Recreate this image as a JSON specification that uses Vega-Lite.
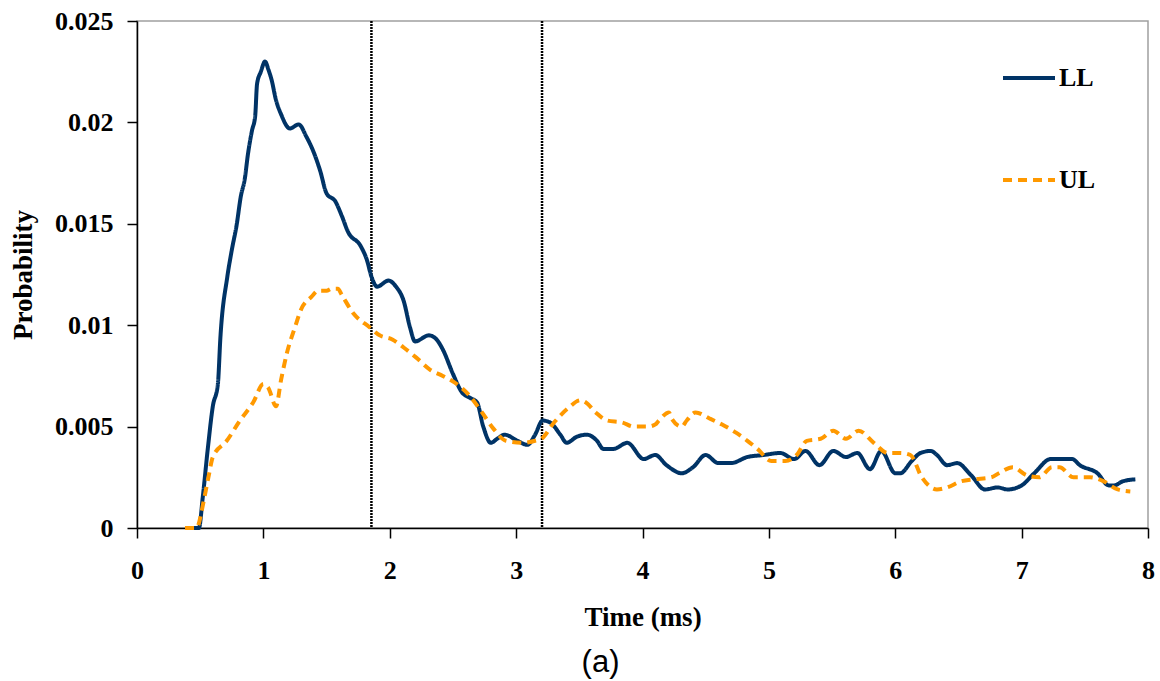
{
  "$schema": "https://vega.github.io/schema/vega-lite/v6.json",
  "autosize": {"type": "none"},
  "padding": {"left": 137, "top": 21, "right": 12, "bottom": 153},
  "width": 1011,
  "height": 507,
  "background": "white",
  "config": {
    "view": {"stroke": "#a0a0a0", "strokeWidth": 1.5},
    "axis": {
      "grid": false,
      "domainColor": "black",
      "domainWidth": 1.5,
      "tickColor": "black",
      "tickWidth": 1.5,
      "tickSize": 10,
      "labelFlush": false,
      "labelFont": "Liberation Serif",
      "labelFontWeight": "bold",
      "labelFontSize": 26,
      "labelColor": "black",
      "titleFont": "Liberation Serif",
      "titleFontWeight": "bold",
      "titleFontSize": 27,
      "titleColor": "black"
    },
    "title": {"font": "Liberation Sans", "fontSize": 31, "fontWeight": "normal", "color": "black"}
  },
  "title": {"text": "(a)", "orient": "bottom", "anchor": "middle", "dx": -42, "offset": 18},
  "datasets": {
    "curves": [
      {"t": 0.40, "p": 0, "s": "LL"},
      {"t": 0.49, "p": 0, "s": "LL"},
      {"t": 0.52, "p": 0.0015, "s": "LL"},
      {"t": 0.56, "p": 0.0039, "s": "LL"},
      {"t": 0.60, "p": 0.0060, "s": "LL"},
      {"t": 0.64, "p": 0.0071, "s": "LL"},
      {"t": 0.66, "p": 0.0094, "s": "LL"},
      {"t": 0.715, "p": 0.0124, "s": "LL"},
      {"t": 0.75, "p": 0.0137, "s": "LL"},
      {"t": 0.79, "p": 0.0150, "s": "LL"},
      {"t": 0.82, "p": 0.0163, "s": "LL"},
      {"t": 0.855, "p": 0.0173, "s": "LL"},
      {"t": 0.875, "p": 0.0183, "s": "LL"},
      {"t": 0.91, "p": 0.0196, "s": "LL"},
      {"t": 0.935, "p": 0.0203, "s": "LL"},
      {"t": 0.95, "p": 0.0219, "s": "LL"},
      {"t": 0.98, "p": 0.0225, "s": "LL"},
      {"t": 1.013, "p": 0.0230, "s": "LL"},
      {"t": 1.04, "p": 0.0226, "s": "LL"},
      {"t": 1.065, "p": 0.0221, "s": "LL"},
      {"t": 1.10, "p": 0.0211, "s": "LL"},
      {"t": 1.14, "p": 0.0204, "s": "LL"},
      {"t": 1.21, "p": 0.0197, "s": "LL"},
      {"t": 1.28, "p": 0.0199, "s": "LL"},
      {"t": 1.34, "p": 0.0193, "s": "LL"},
      {"t": 1.40, "p": 0.0185, "s": "LL"},
      {"t": 1.45, "p": 0.0176, "s": "LL"},
      {"t": 1.50, "p": 0.0165, "s": "LL"},
      {"t": 1.57, "p": 0.0161, "s": "LL"},
      {"t": 1.62, "p": 0.0154, "s": "LL"},
      {"t": 1.67, "p": 0.0146, "s": "LL"},
      {"t": 1.77, "p": 0.0139, "s": "LL"},
      {"t": 1.82, "p": 0.0132, "s": "LL"},
      {"t": 1.855, "p": 0.0124, "s": "LL"},
      {"t": 1.90, "p": 0.0119, "s": "LL"},
      {"t": 1.99, "p": 0.0122, "s": "LL"},
      {"t": 2.05, "p": 0.0119, "s": "LL"},
      {"t": 2.11, "p": 0.0112, "s": "LL"},
      {"t": 2.16, "p": 0.0099, "s": "LL"},
      {"t": 2.20, "p": 0.0092, "s": "LL"},
      {"t": 2.31, "p": 0.0095, "s": "LL"},
      {"t": 2.37, "p": 0.0093, "s": "LL"},
      {"t": 2.42, "p": 0.0088, "s": "LL"},
      {"t": 2.50, "p": 0.0076, "s": "LL"},
      {"t": 2.57, "p": 0.0067, "s": "LL"},
      {"t": 2.64, "p": 0.0064, "s": "LL"},
      {"t": 2.69, "p": 0.0062, "s": "LL"},
      {"t": 2.74, "p": 0.0050, "s": "LL"},
      {"t": 2.80, "p": 0.0042, "s": "LL"},
      {"t": 2.85, "p": 0.0044, "s": "LL"},
      {"t": 2.91, "p": 0.0046, "s": "LL"},
      {"t": 3.01, "p": 0.0043, "s": "LL"},
      {"t": 3.09, "p": 0.0041, "s": "LL"},
      {"t": 3.15, "p": 0.0046, "s": "LL"},
      {"t": 3.21, "p": 0.0053, "s": "LL"},
      {"t": 3.27, "p": 0.0052, "s": "LL"},
      {"t": 3.35, "p": 0.0046, "s": "LL"},
      {"t": 3.40, "p": 0.0042, "s": "LL"},
      {"t": 3.48, "p": 0.0045, "s": "LL"},
      {"t": 3.56, "p": 0.0046, "s": "LL"},
      {"t": 3.64, "p": 0.0043, "s": "LL"},
      {"t": 3.69, "p": 0.0039, "s": "LL"},
      {"t": 3.77, "p": 0.0039, "s": "LL"},
      {"t": 3.88, "p": 0.0042, "s": "LL"},
      {"t": 4.01, "p": 0.0034, "s": "LL"},
      {"t": 4.10, "p": 0.0036, "s": "LL"},
      {"t": 4.19, "p": 0.0031, "s": "LL"},
      {"t": 4.31, "p": 0.0027, "s": "LL"},
      {"t": 4.40, "p": 0.0030, "s": "LL"},
      {"t": 4.50, "p": 0.0036, "s": "LL"},
      {"t": 4.60, "p": 0.0032, "s": "LL"},
      {"t": 4.70, "p": 0.0032, "s": "LL"},
      {"t": 4.83, "p": 0.0035, "s": "LL"},
      {"t": 4.96, "p": 0.0036, "s": "LL"},
      {"t": 5.09, "p": 0.0037, "s": "LL"},
      {"t": 5.20, "p": 0.0034, "s": "LL"},
      {"t": 5.29, "p": 0.0038, "s": "LL"},
      {"t": 5.40, "p": 0.0031, "s": "LL"},
      {"t": 5.51, "p": 0.0038, "s": "LL"},
      {"t": 5.61, "p": 0.0035, "s": "LL"},
      {"t": 5.70, "p": 0.0037, "s": "LL"},
      {"t": 5.80, "p": 0.0029, "s": "LL"},
      {"t": 5.89, "p": 0.0038, "s": "LL"},
      {"t": 6.00, "p": 0.0027, "s": "LL"},
      {"t": 6.04, "p": 0.0027, "s": "LL"},
      {"t": 6.13, "p": 0.0033, "s": "LL"},
      {"t": 6.20, "p": 0.0037, "s": "LL"},
      {"t": 6.28, "p": 0.0038, "s": "LL"},
      {"t": 6.33, "p": 0.0036, "s": "LL"},
      {"t": 6.41, "p": 0.0031, "s": "LL"},
      {"t": 6.49, "p": 0.0032, "s": "LL"},
      {"t": 6.60, "p": 0.0026, "s": "LL"},
      {"t": 6.71, "p": 0.0019, "s": "LL"},
      {"t": 6.81, "p": 0.0020, "s": "LL"},
      {"t": 6.89, "p": 0.0019, "s": "LL"},
      {"t": 7.00, "p": 0.0021, "s": "LL"},
      {"t": 7.10, "p": 0.0027, "s": "LL"},
      {"t": 7.23, "p": 0.0034, "s": "LL"},
      {"t": 7.40, "p": 0.0034, "s": "LL"},
      {"t": 7.46, "p": 0.0031, "s": "LL"},
      {"t": 7.60, "p": 0.0027, "s": "LL"},
      {"t": 7.69, "p": 0.0021, "s": "LL"},
      {"t": 7.73, "p": 0.0021, "s": "LL"},
      {"t": 7.80, "p": 0.0023, "s": "LL"},
      {"t": 7.90, "p": 0.0024, "s": "LL"},
      {"t": 0.38, "p": 0, "s": "UL"},
      {"t": 0.47, "p": 0, "s": "UL"},
      {"t": 0.53, "p": 0.0014, "s": "UL"},
      {"t": 0.565, "p": 0.0025, "s": "UL"},
      {"t": 0.60, "p": 0.0035, "s": "UL"},
      {"t": 0.71, "p": 0.0043, "s": "UL"},
      {"t": 0.815, "p": 0.0053, "s": "UL"},
      {"t": 0.92, "p": 0.0062, "s": "UL"},
      {"t": 1.00, "p": 0.0071, "s": "UL"},
      {"t": 1.04, "p": 0.0069, "s": "UL"},
      {"t": 1.10, "p": 0.0060, "s": "UL"},
      {"t": 1.14, "p": 0.0073, "s": "UL"},
      {"t": 1.185, "p": 0.0086, "s": "UL"},
      {"t": 1.25, "p": 0.0099, "s": "UL"},
      {"t": 1.30, "p": 0.0108, "s": "UL"},
      {"t": 1.38, "p": 0.0114, "s": "UL"},
      {"t": 1.435, "p": 0.0117, "s": "UL"},
      {"t": 1.50, "p": 0.0117, "s": "UL"},
      {"t": 1.54, "p": 0.0118, "s": "UL"},
      {"t": 1.59, "p": 0.0118, "s": "UL"},
      {"t": 1.62, "p": 0.0115, "s": "UL"},
      {"t": 1.71, "p": 0.0106, "s": "UL"},
      {"t": 1.84, "p": 0.0099, "s": "UL"},
      {"t": 1.92, "p": 0.0095, "s": "UL"},
      {"t": 2.02, "p": 0.0093, "s": "UL"},
      {"t": 2.11, "p": 0.0089, "s": "UL"},
      {"t": 2.21, "p": 0.0084, "s": "UL"},
      {"t": 2.32, "p": 0.0078, "s": "UL"},
      {"t": 2.42, "p": 0.0075, "s": "UL"},
      {"t": 2.53, "p": 0.0071, "s": "UL"},
      {"t": 2.62, "p": 0.0066, "s": "UL"},
      {"t": 2.73, "p": 0.0057, "s": "UL"},
      {"t": 2.82, "p": 0.0049, "s": "UL"},
      {"t": 2.92, "p": 0.0043, "s": "UL"},
      {"t": 3.06, "p": 0.0042, "s": "UL"},
      {"t": 3.15, "p": 0.0043, "s": "UL"},
      {"t": 3.20, "p": 0.0044, "s": "UL"},
      {"t": 3.30, "p": 0.0052, "s": "UL"},
      {"t": 3.41, "p": 0.0059, "s": "UL"},
      {"t": 3.51, "p": 0.0063, "s": "UL"},
      {"t": 3.55, "p": 0.0062, "s": "UL"},
      {"t": 3.63, "p": 0.0057, "s": "UL"},
      {"t": 3.72, "p": 0.0053, "s": "UL"},
      {"t": 3.84, "p": 0.0052, "s": "UL"},
      {"t": 3.93, "p": 0.0050, "s": "UL"},
      {"t": 4.04, "p": 0.0050, "s": "UL"},
      {"t": 4.10, "p": 0.0051, "s": "UL"},
      {"t": 4.13, "p": 0.0053, "s": "UL"},
      {"t": 4.21, "p": 0.0057, "s": "UL"},
      {"t": 4.23, "p": 0.0054, "s": "UL"},
      {"t": 4.31, "p": 0.0050, "s": "UL"},
      {"t": 4.35, "p": 0.0053, "s": "UL"},
      {"t": 4.42, "p": 0.0057, "s": "UL"},
      {"t": 4.53, "p": 0.0054, "s": "UL"},
      {"t": 4.63, "p": 0.0051, "s": "UL"},
      {"t": 4.74, "p": 0.0047, "s": "UL"},
      {"t": 4.83, "p": 0.0043, "s": "UL"},
      {"t": 4.91, "p": 0.0039, "s": "UL"},
      {"t": 5.02, "p": 0.0033, "s": "UL"},
      {"t": 5.13, "p": 0.0033, "s": "UL"},
      {"t": 5.22, "p": 0.0036, "s": "UL"},
      {"t": 5.30, "p": 0.0043, "s": "UL"},
      {"t": 5.41, "p": 0.0044, "s": "UL"},
      {"t": 5.51, "p": 0.0048, "s": "UL"},
      {"t": 5.61, "p": 0.0044, "s": "UL"},
      {"t": 5.71, "p": 0.0048, "s": "UL"},
      {"t": 5.83, "p": 0.0042, "s": "UL"},
      {"t": 5.94, "p": 0.0037, "s": "UL"},
      {"t": 6.04, "p": 0.0037, "s": "UL"},
      {"t": 6.12, "p": 0.0036, "s": "UL"},
      {"t": 6.21, "p": 0.0025, "s": "UL"},
      {"t": 6.33, "p": 0.0019, "s": "UL"},
      {"t": 6.41, "p": 0.0020, "s": "UL"},
      {"t": 6.52, "p": 0.0023, "s": "UL"},
      {"t": 6.62, "p": 0.0024, "s": "UL"},
      {"t": 6.76, "p": 0.0025, "s": "UL"},
      {"t": 6.82, "p": 0.0027, "s": "UL"},
      {"t": 6.93, "p": 0.0030, "s": "UL"},
      {"t": 7.04, "p": 0.0026, "s": "UL"},
      {"t": 7.14, "p": 0.0025, "s": "UL"},
      {"t": 7.24, "p": 0.0030, "s": "UL"},
      {"t": 7.30, "p": 0.0030, "s": "UL"},
      {"t": 7.41, "p": 0.0025, "s": "UL"},
      {"t": 7.54, "p": 0.0025, "s": "UL"},
      {"t": 7.65, "p": 0.0023, "s": "UL"},
      {"t": 7.76, "p": 0.0019, "s": "UL"},
      {"t": 7.86, "p": 0.0018, "s": "UL"}
    ],
    "markers": [
      {"t": 1.855},
      {"t": 3.205}
    ]
  },
  "layer": [
    {
      "data": {"name": "markers"},
      "mark": {"type": "rule", "color": "black", "strokeWidth": 2.5, "strokeDash": [2, 1]},
      "encoding": {
        "x": {"field": "t", "type": "quantitative", "scale": {"domain": [0, 8]}}
      }
    },
    {
      "data": {"name": "curves"},
      "mark": {"type": "line", "strokeWidth": 4, "interpolate": "monotone", "strokeCap": "butt"},
      "encoding": {
        "x": {
          "field": "t", "type": "quantitative",
          "scale": {"domain": [0, 8], "nice": false},
          "axis": {"title": "Time (ms)", "values": [0, 1, 2, 3, 4, 5, 6, 7, 8], "format": "d", "labelPadding": 19, "titlePadding": 21}
        },
        "y": {
          "field": "p", "type": "quantitative",
          "scale": {"domain": [0, 0.025], "nice": false},
          "axis": {"title": "Probability", "values": [0, 0.005, 0.01, 0.015, 0.02, 0.025], "format": "~g", "labelPadding": 14, "titlePadding": 17}
        },
        "color": {
          "field": "s", "type": "nominal",
          "scale": {"domain": ["LL", "UL"], "range": ["#003366", "#FF9900"]},
          "legend": {
            "title": null,
            "orient": "none",
            "legendX": 864,
            "legendY": 29,
            "symbolType": "stroke",
            "symbolSize": 2704,
            "symbolStrokeWidth": 4,
            "labelFont": "Liberation Serif",
            "labelFontWeight": "bold",
            "labelFontSize": 26,
            "labelColor": "black",
            "labelOffset": 2,
            "rowPadding": 61
          }
        },
        "strokeDash": {
          "field": "s", "type": "nominal",
          "scale": {"domain": ["LL", "UL"], "range": [[1, 0], [9, 6]]},
          "legend": {
            "title": null,
            "orient": "none",
            "legendX": 864,
            "legendY": 29,
            "symbolType": "stroke",
            "symbolSize": 2704,
            "symbolStrokeWidth": 4,
            "labelFont": "Liberation Serif",
            "labelFontWeight": "bold",
            "labelFontSize": 26,
            "labelColor": "black",
            "labelOffset": 2,
            "rowPadding": 61
          }
        }
      }
    }
  ]
}
